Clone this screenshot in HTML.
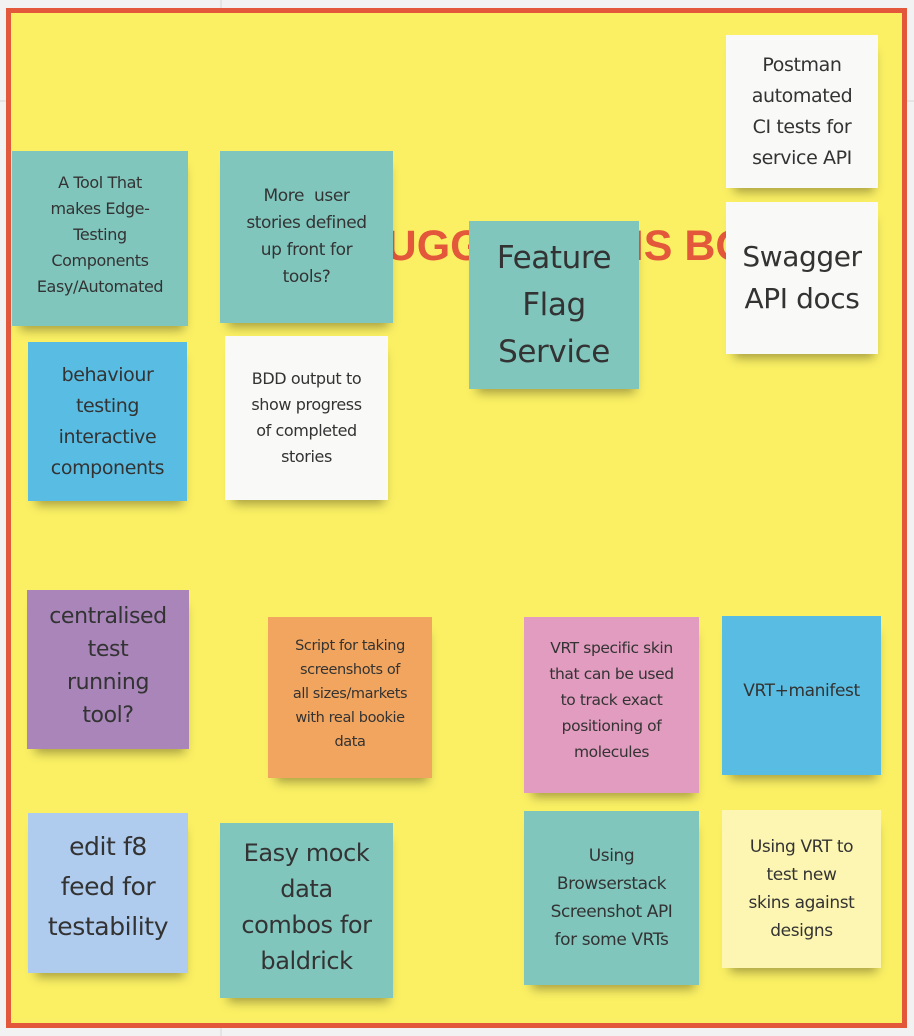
<!DOCTYPE html>
<html><head><meta charset="utf-8"><style>
*{margin:0;padding:0;box-sizing:border-box}
body{width:914px;height:1036px;background:#f2f2f2;position:relative;overflow:hidden;font-family:"DejaVu Sans","Liberation Sans",sans-serif;color:#333}
.grid{position:absolute;background:#e4e4e4}
.board{position:absolute;left:6px;top:8px;width:901px;height:1020px;background:#fbf064;border:5px solid #e3573a}
.title{position:absolute;left:357px;top:225px;white-space:nowrap;line-height:43px;font-family:"Liberation Sans",sans-serif;font-weight:bold;font-size:43px;color:#e3573a}
.n{position:absolute;display:flex;align-items:center;justify-content:center;text-align:center;white-space:nowrap;box-shadow:2px 10px 10px -6px rgba(0,0,0,.35);letter-spacing:-0.4px}
.t{background:#80c6bd}.w{background:#f9f9f7}.b{background:#59bde3}.p{background:#a985ba}.o{background:#f2a55e}.k{background:#e19cbf}.lb{background:#afcbee}.ly{background:#fdf6b2}
</style></head><body>
<div class="grid" style="left:220px;top:0;width:2px;height:1036px"></div>
<div class="grid" style="left:0;top:100px;width:914px;height:2px"></div>
<div class="board"></div>
<div class="title">SUGGESTIONS BOX</div>

<div class="n t" style="left:12px;top:151px;width:176px;height:175px;font-size:16px;line-height:26px;padding-bottom:8px">A Tool That<br>makes Edge-<br>Testing<br>Components<br>Easy/Automated</div>
<div class="n t" style="left:220px;top:151px;width:173px;height:172px;font-size:17px;line-height:27px">More&nbsp; user<br>stories defined<br>up front for<br>tools?</div>
<div class="n t" style="left:469px;top:221px;width:170px;height:168px;font-size:31px;line-height:47px">Feature<br>Flag<br>Service</div>
<div class="n w" style="left:726px;top:35px;width:152px;height:153px;font-size:19px;line-height:31px">Postman<br>automated<br>CI tests for<br>service API</div>
<div class="n w" style="left:726px;top:202px;width:152px;height:152px;font-size:28px;line-height:42px">Swagger<br>API docs</div>
<div class="n b" style="left:28px;top:342px;width:159px;height:159px;font-size:19px;line-height:31px">behaviour<br>testing<br>interactive<br>components</div>
<div class="n w" style="left:225px;top:336px;width:163px;height:164px;font-size:16px;line-height:26px">BDD output to<br>show progress<br>of completed<br>stories</div>
<div class="n p" style="left:27px;top:590px;width:162px;height:159px;font-size:22px;line-height:33px;padding-bottom:8px">centralised<br>test<br>running<br>tool?</div>
<div class="n o" style="left:268px;top:617px;width:164px;height:161px;font-size:14.5px;line-height:24px;padding-bottom:8px">Script for taking<br>screenshots of<br>all sizes/markets<br>with real bookie<br>data</div>
<div class="n k" style="left:524px;top:617px;width:175px;height:176px;font-size:15.5px;line-height:26px;padding-bottom:10px">VRT specific skin<br>that can be used<br>to track exact<br>positioning of<br>molecules</div>
<div class="n b" style="left:722px;top:616px;width:159px;height:159px;font-size:17px;line-height:26px;padding-bottom:10px">VRT+manifest</div>
<div class="n lb" style="left:28px;top:813px;width:160px;height:160px;font-size:25px;line-height:40px;padding-bottom:12px">edit f8<br>feed for<br>testability</div>
<div class="n t" style="left:220px;top:823px;width:173px;height:175px;font-size:24px;line-height:36px;padding-bottom:8px">Easy mock<br>data<br>combos for<br>baldrick</div>
<div class="n t" style="left:524px;top:811px;width:175px;height:174px;font-size:17px;line-height:28px">Using<br>Browserstack<br>Screenshot API<br>for some VRTs</div>
<div class="n ly" style="left:722px;top:810px;width:159px;height:158px;font-size:17px;line-height:28px">Using VRT to<br>test new<br>skins against<br>designs</div>
</body></html>
